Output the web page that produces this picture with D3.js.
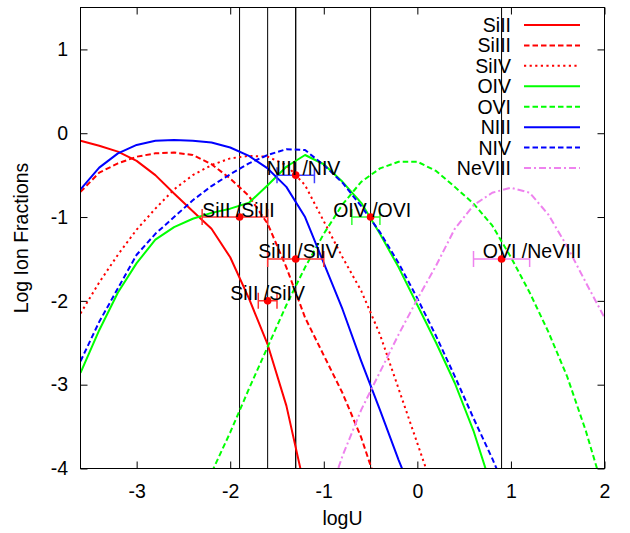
<!DOCTYPE html>
<html>
<head>
<meta charset="utf-8">
<script src="https://cdn.jsdelivr.net/npm/d3@7/dist/d3.min.js"></script>
<style>
  html, body { margin: 0; padding: 0; background: #fff; }
  svg { display: block; font-family: "Liberation Sans", Arial, Helvetica, sans-serif; }
</style>
</head>
<body>
<svg id="chart" width="630" height="533"></svg>
<script>
// Ionization parameter grid (log U)
const logU = [-3.6, -3.4, -3.2, -3.0, -2.8, -2.6, -2.4, -2.2, -2.0, -1.8, -1.6, -1.4, -1.2, -1.0,
              -0.8, -0.6, -0.4, -0.2, 0.0, 0.2, 0.4, 0.6, 0.8, 1.0, 1.2, 1.4, 1.6, 1.8, 2.0];

// Log ion fractions on that grid (null = far below the plotted range)
const SiII   = [-0.09, -0.15, -0.22, -0.33, -0.50, -0.72, -0.93, -1.14, -1.48, -1.97, -2.52, -3.25, -4.25,
                null, null, null, null, null, null, null, null, null, null, null, null, null, null, null, null];
const SiIII  = [-0.70, -0.47, -0.36, -0.28, -0.24, -0.23, -0.26, -0.37, -0.54, -0.75, -1.08, -1.60, -2.20,
                -2.65, -3.10, -3.63, -4.30, null, null, null, null, null, null, null, null, null, null, null, null];
const SiIV   = [-2.15, -1.78, -1.45, -1.15, -0.90, -0.67, -0.50, -0.38, -0.30, -0.27, -0.28, -0.38, -0.62,
                -1.05, -1.48, -1.88, -2.40, -3.05, -3.70, -4.35, null, null, null, null, null, null, null, null, null];
const OIV    = [-2.86, -2.35, -1.90, -1.55, -1.27, -1.12, -1.02, -0.95, -0.90, -0.83, -0.62, -0.40, -0.26,
                -0.37, -0.58, -0.83, -1.20, -1.60, -2.05, -2.50, -2.98, -3.55, -4.25, null, null, null, null, null, null];
const OVI    = [null, null, null, null, null, null, -4.60, -4.05, -3.57, -3.05, -2.55, -2.05, -1.60,
                -1.20, -0.85, -0.58, -0.42, -0.34, -0.34, -0.45, -0.64, -0.84, -1.10, -1.48, -1.90, -2.37, -2.90, -3.55, -4.30];
const NIII   = [-0.67, -0.41, -0.24, -0.14, -0.09, -0.08, -0.09, -0.11, -0.17, -0.27, -0.42, -0.64, -1.00,
                -1.55, -2.10, -2.72, -3.30, -3.90, -4.45, null, null, null, null, null, null, null, null, null, null];
const NIV    = [-2.72, -2.25, -1.85, -1.45, -1.20, -1.00, -0.80, -0.63, -0.49, -0.36, -0.26, -0.19, -0.20,
                -0.38, -0.59, -0.87, -1.18, -1.55, -1.97, -2.42, -2.90, -3.40, -3.88, -4.40, null, null, null, null, null];
const NeVIII = [null, null, null, null, null, null, null, null, null, null, null, null, null,
                -4.50, -3.85, -3.30, -2.85, -2.40, -1.98, -1.58, -1.14, -0.86, -0.71, -0.65, -0.71, -0.97, -1.35, -1.78, -2.20];

const ionNames  = ["SiII", "SiIII", "SiIV", "OIV", "OVI", "NIII", "NIV", "NeVIII"];
const ionValues = [SiII, SiIII, SiIV, OIV, OVI, NIII, NIV, NeVIII];

// Observed column-density ratios and the log U range each one allows
const ratioNames = ["SiII /SiIII", "SiII /SiIV", "SiIII /SiIV", "NIII /NIV", "OIV /OVI", "OVI /NeVIII"];
const ratioU     = [-1.9, -1.6, -1.3, -1.3, -0.5, 0.9];
const ratioLogF  = [-1.0, -2.0, -1.5, -0.5, -1.0, -1.5];
const ratioULow  = [-2.3, -1.7, -1.6, -1.5, -0.7, 0.6];
const ratioUHigh = [-1.6, -1.5, -1.0, -1.1, -0.4, 1.2];

const xTicks = [-3, -2, -1, 0, 1, 2];
const yTicks = [-4, -3, -2, -1, 0, 1];

// ---- styling ----
const ionColors = ["#ff0000", "#ff0000", "#ff0000", "#00ff00", "#00ff00", "#0000ff", "#0000ff", "#ee82ee"];
const dashes = {
  solid: null,
  dashed: "5.5,3",
  dotted: "2.2,3.4",
  dashdot: "7,3,2,3"
};
const ionDash = ["solid", "dashed", "dotted", "solid", "dashed", "solid", "dashed", "dashdot"];
const ratioColors = ["#ff3030", "#ff3030", "#ff3030", "#4040ff", "#30ff30", "#ee82ee"];
// label left edge, relative to the ratio's log U
const labelShift = [-0.4, -0.4, -0.4, -0.31, -0.4, -0.2];

const FONT = 19.5;
const pLeft = 80.5, pRight = 604.5, pTop = 7.5, pBottom = 468.5;

const svg = d3.select("#chart");

const x = d3.scaleLinear().domain([-3.6, 2]).range([pLeft, pRight]);
const y = d3.scaleLinear().domain([-4, 1.5]).range([pBottom, pTop]);

svg.append("defs").append("clipPath").attr("id", "plotclip")
  .append("rect")
  .attr("x", pLeft).attr("y", pTop)
  .attr("width", pRight - pLeft).attr("height", pBottom - pTop);

// plain hyphen-minus tick labels
const tickText = d => String(d);

// Axes: ticks point inward on all four sides, labels on bottom and left only
const axB = svg.append("g").attr("transform", `translate(0,${pBottom})`)
  .call(d3.axisBottom(x).tickValues(xTicks).tickSizeInner(-7).tickSizeOuter(0).tickPadding(16)
    .tickFormat(tickText));
const axT = svg.append("g").attr("transform", `translate(0,${pTop})`)
  .call(d3.axisTop(x).tickValues(xTicks).tickSizeInner(-7).tickSizeOuter(0).tickFormat(""));
const axL = svg.append("g").attr("transform", `translate(${pLeft},0)`)
  .call(d3.axisLeft(y).tickValues(yTicks).tickSizeInner(-7).tickSizeOuter(0).tickPadding(12.5)
    .tickFormat(tickText));
const axR = svg.append("g").attr("transform", `translate(${pRight},0)`)
  .call(d3.axisRight(y).tickValues(yTicks).tickSizeInner(-7).tickSizeOuter(0).tickFormat(""));

[axB, axT, axL, axR].forEach(g => {
  g.select(".domain").remove();
  g.selectAll(".tick line").attr("stroke", "#000").attr("stroke-width", 1);
  g.selectAll(".tick text").attr("fill", "#000").attr("font-size", FONT)
    .attr("font-family", "'Liberation Sans', Arial, sans-serif");
});

// Axis titles
svg.append("text")
  .attr("x", (pLeft + pRight) / 2).attr("y", 525)
  .attr("text-anchor", "middle").attr("font-size", FONT)
  .text("logU");
svg.append("text")
  .attr("transform", `translate(28,${(pTop + pBottom) / 2}) rotate(-90)`)
  .attr("text-anchor", "middle").attr("font-size", FONT)
  .text("Log Ion Fractions");

const plot = svg.append("g").attr("clip-path", "url(#plotclip)");

// Vertical markers at each ratio's best log U
plot.selectAll("line.vmark").data(ratioU).join("line")
  .attr("class", "vmark")
  .attr("x1", d => x(d)).attr("x2", d => x(d))
  .attr("y1", pTop).attr("y2", pBottom)
  .attr("stroke", "#000").attr("stroke-width", 1);

// Ion fraction curves
const line = d3.line()
  .defined(d => d[1] !== null)
  .x(d => x(d[0])).y(d => y(d[1]));

ionValues.forEach((vals, i) => {
  const pts = logU.map((u, k) => [u, vals[k]]);
  plot.append("path")
    .datum(pts)
    .attr("d", line)
    .attr("fill", "none")
    .attr("stroke", ionColors[i])
    .attr("stroke-width", 2)
    .attr("stroke-dasharray", dashes[ionDash[i]])
    .attr("stroke-linejoin", "round");
});

// Ratio error bars and points
const cap = 8;
ratioNames.forEach((name, i) => {
  const g = plot.append("g");
  const yy = y(ratioLogF[i]);
  g.append("line")
    .attr("x1", x(ratioULow[i])).attr("x2", x(ratioUHigh[i]))
    .attr("y1", yy).attr("y2", yy)
    .attr("stroke", ratioColors[i]).attr("stroke-width", 1.5);
  [ratioULow[i], ratioUHigh[i]].forEach(u => {
    g.append("line")
      .attr("x1", x(u)).attr("x2", x(u))
      .attr("y1", yy - cap).attr("y2", yy + cap)
      .attr("stroke", ratioColors[i]).attr("stroke-width", 1.5);
  });
  g.append("circle")
    .attr("cx", x(ratioU[i])).attr("cy", yy).attr("r", 3.8)
    .attr("fill", "#ff0000");
});

// Ratio labels
svg.append("g").selectAll("text").data(ratioNames).join("text")
  .attr("x", (d, i) => x(ratioU[i] + labelShift[i]))
  .attr("y", (d, i) => y(ratioLogF[i]) - 0.5)
  .attr("font-size", FONT)
  .attr("fill", "#000")
  .text(d => d);

// Legend (top right, inside the frame)
const legX = 511, legY0 = 25, legDy = 20.43;
const leg = svg.append("g");
ionNames.forEach((name, i) => {
  const cy = legY0 + i * legDy;
  leg.append("text")
    .attr("x", legX).attr("y", cy + 7)
    .attr("text-anchor", "end").attr("font-size", FONT)
    .text(name);
  leg.append("line")
    .attr("x1", 524).attr("x2", 580)
    .attr("y1", cy).attr("y2", cy)
    .attr("stroke", ionColors[i]).attr("stroke-width", 2)
    .attr("stroke-dasharray", dashes[ionDash[i]]);
});

// Frame
svg.append("rect")
  .attr("x", pLeft).attr("y", pTop)
  .attr("width", pRight - pLeft).attr("height", pBottom - pTop)
  .attr("fill", "none").attr("stroke", "#000").attr("stroke-width", 1);
</script>
</body>
</html>
